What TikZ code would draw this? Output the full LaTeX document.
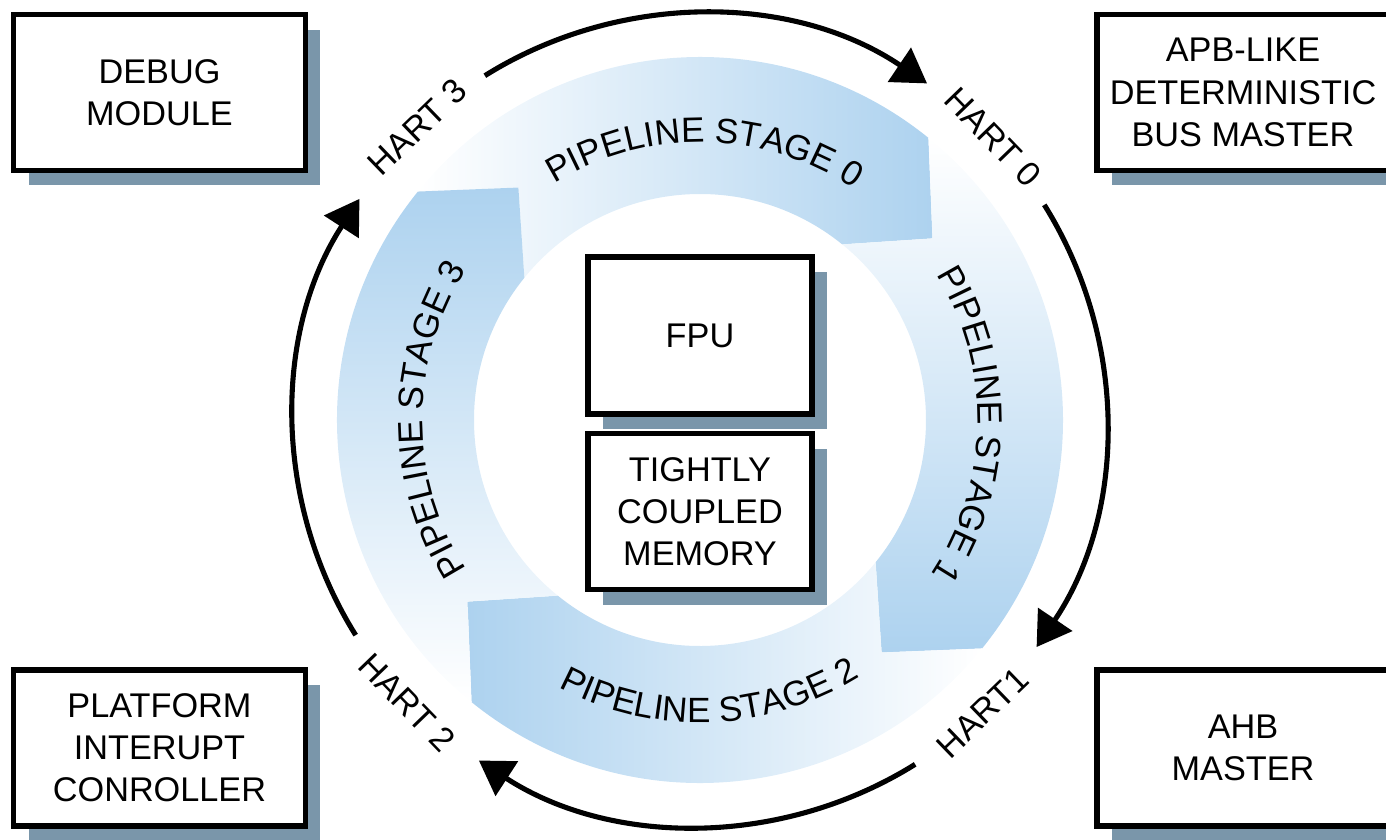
\documentclass[tikz,border=0pt]{standalone}
\usepackage{fontspec}
\setmainfont{Liberation Sans}
\usepackage{xcolor}
\usetikzlibrary{shapes,arrows.meta,positioning,calc,decorations.text,shadows}

\definecolor{stageblue}{RGB}{173,210,239}
\definecolor{shadowgray}{RGB}{122,150,170}

\begin{document}
\begin{tikzpicture}[
    x=0.02cm, y=0.02cm,
    unit/.style={rectangle, draw, line width=3.2pt, fill=white, align=center,
        font=\fontsize{19.5}{24}\selectfont,
        drop shadow={shadow xshift=0.3cm, shadow yshift=-0.3cm, fill=shadowgray, opacity=1}},
    periph/.style={unit, minimum width=5.84cm, minimum height=3.12cm},
    core/.style={unit, minimum width=4.48cm, minimum height=3.12cm},
    hart/.style={font=\fontsize{19.5}{24}\selectfont},
    flow/.style={line width=2.9pt, -{Triangle[length=19pt, width=23pt]}},
    ring seg/.style={insert path={(#1:363) arc[start angle=#1, end angle=#1-90, radius=363]
        -- ({#1-103}:295) -- ({#1-90}:226) arc[start angle=#1-90, end angle=#1, radius=226]
        -- ({#1-13}:295) -- cycle}},
    stage/.style={decorate, decoration={text along path, text align=center,
        text={|\fontsize{20}{24}\selectfont|#1}}}
]
\useasboundingbox (-700,-419) rectangle (686,420);

% pipeline ring
\shade[left color=white, right color=stageblue, ring seg=141];
\shade[top color=white, bottom color=stageblue, ring seg=51];
\shade[left color=stageblue, right color=white, ring seg=-39];
\shade[top color=stageblue, bottom color=white, ring seg=-129];

\path[stage={PIPELINE STAGE 0}] (174:277.5) arc[start angle=174, end angle=4, radius=277.5];
\path[stage={PIPELINE STAGE 1}] (89:277.5) arc[start angle=89, end angle=-91, radius=277.5];
\path[stage={PIPELINE STAGE 2}] (-178:302.5) arc[start angle=-178, end angle=2, radius=302.5];
\path[stage={PIPELINE STAGE 3}] (270:277.5) arc[start angle=270, end angle=90, radius=277.5];

% core blocks
\node[core, minimum height=3.14cm] (fpu) at (0,84.5) {FPU};
\node[core, below=0.28cm of fpu] (tcm) {TIGHTLY\\COUPLED\\MEMORY};

% harts
\node[hart, rotate=-46] (h0) at (44:407) {HART 0};
\node[hart, rotate=44] (h1) at (-46:407) {HART1};
\node[hart, rotate=-46] (h2) at (-136:407) {HART 2};
\node[hart, rotate=44] (h3) at (134:407) {HART 3};

\coordinate (a0) at (122:406);
\coordinate (a1) at (32:406);
\coordinate (a2) at (-58:406);
\coordinate (a3) at (-148:406);
\draw[flow] (a0) arc[start angle=122, end angle=56, radius=406];
\draw[flow] (a1) arc[start angle=32, end angle=-34, radius=406];
\draw[flow] (a2) arc[start angle=-58, end angle=-123, radius=406];
\draw[flow] (a3) arc[start angle=-148, end angle=-213, radius=406];

% peripherals
\node[periph] (debug) at (-540.5,327.5) {DEBUG\\MODULE};
\node[periph] (apb) at (543,327.5) {APB-LIKE\\DETERMINISTIC\\BUS MASTER};
\node[periph] (plic) at (-540.5,-328) {PLATFORM\\INTERUPT\\CONROLLER};
\node[periph] (ahb) at (543,-328) {AHB\\MASTER};

\end{tikzpicture}
\end{document}
